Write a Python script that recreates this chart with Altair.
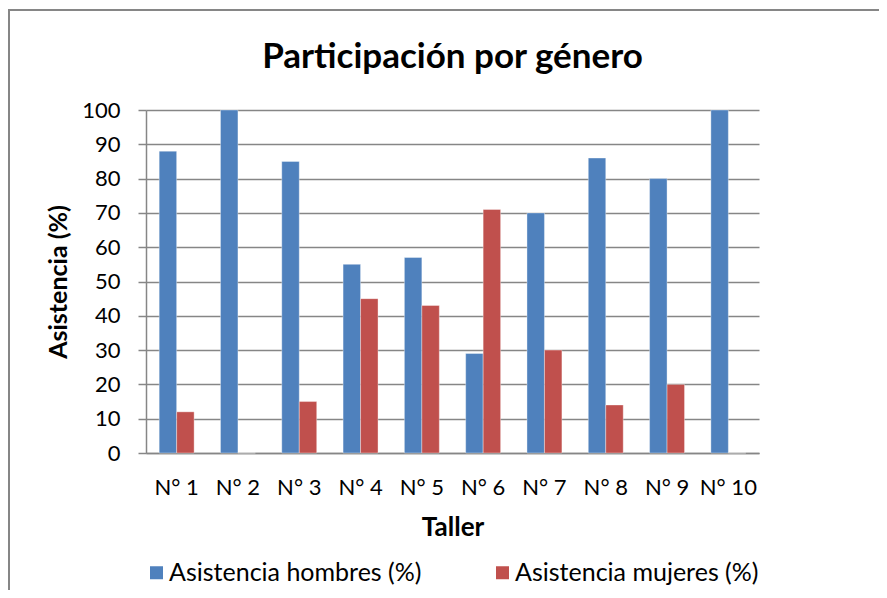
import altair as alt
import pandas as pd

talleres = ["N° 1", "N° 2", "N° 3", "N° 4", "N° 5", "N° 6", "N° 7", "N° 8", "N° 9", "N° 10"]
hombres = [88, 100, 85, 55, 57, 29, 70, 86, 80, 100]
mujeres = [12, 0, 15, 45, 43, 71, 30, 14, 20, 0]
series = ["Asistencia hombres (%)", "Asistencia mujeres (%)"]
colores = ["#4F81BD", "#C0504D"]
titulo = "Participación por género"

rows = []
for t, h, m in zip(talleres, hombres, mujeres):
    rows.append({"Taller": t, "Serie": series[0], "Valor": h})
    rows.append({"Taller": t, "Serie": series[1], "Valor": m})
df = pd.DataFrame(rows)

FONT = "Lato"
GRID = "#868686"

bars = alt.Chart(df).mark_bar(stroke="white", strokeWidth=0.6, strokeOpacity=0.6).encode(
    x=alt.X("Taller:N", sort=talleres,
            scale=alt.Scale(paddingInner=0.43, paddingOuter=0.215),
            axis=alt.Axis(title="Taller", labelAngle=0, ticks=False, domain=True,
                          domainColor=GRID, domainWidth=1.5, labelPadding=24,
                          titlePadding=16, labelFontSize=22, titleFontSize=26,
                          labelColor="#000", titleColor="#000", grid=False)),
    xOffset=alt.XOffset("Serie:N", sort=series, scale=alt.Scale(paddingInner=0, paddingOuter=0)),
    y=alt.Y("Valor:Q", scale=alt.Scale(domain=[0, 100], nice=False),
            axis=alt.Axis(title="Asistencia (%)", values=list(range(0, 101, 10)),
                          tickSize=8, tickColor=GRID, tickWidth=1.5,
                          domainColor=GRID, domainWidth=1.5,
                          gridColor=GRID, gridWidth=1.5,
                          labelPadding=18, titlePadding=10,
                          labelFontSize=22, titleFontSize=25,
                          labelColor="#000", titleColor="#000")),
    color=alt.Color("Serie:N", sort=series,
                    scale=alt.Scale(domain=series, range=colores),
                    legend=alt.Legend(title=None, orient="none", direction="horizontal",
                                      legendX=-2, legendY=450, symbolType="square",
                                      symbolSize=169, symbolStrokeWidth=0,
                                      labelFontSize=25, labelColor="#000", labelLimit=0,
                                      columnPadding=68, padding=0, labelOffset=0)),
)

frame = alt.Chart(pd.DataFrame({"k": [0]})).mark_rect(
    fill=None, stroke=GRID, strokeWidth=2, clip=False
).encode(
    x=alt.value(-137), x2=alt.value(900), y=alt.value(-100), y2=alt.value(700)
)

title = alt.Chart(pd.DataFrame({"t": [titulo]})).mark_text(
    font=FONT, fontSize=35, fontWeight="bold", color="#000",
    align="center", baseline="alphabetic", clip=False
).encode(text="t:N", x=alt.value(306.5), y=alt.value(-42))

chart = alt.layer(frame, bars, title).properties(
    width=613, height=343,
    autosize=alt.AutoSizeParams(type="none"),
    padding={"left": 138, "top": 102, "right": 120, "bottom": 137},
).configure(font=FONT).configure_axis(
    labelFont=FONT, titleFont=FONT, titleFontWeight="bold"
).configure_legend(labelFont=FONT).configure_view(stroke=None)

chart.save("out.html", embed_options={"renderer": "svg", "actions": False})
